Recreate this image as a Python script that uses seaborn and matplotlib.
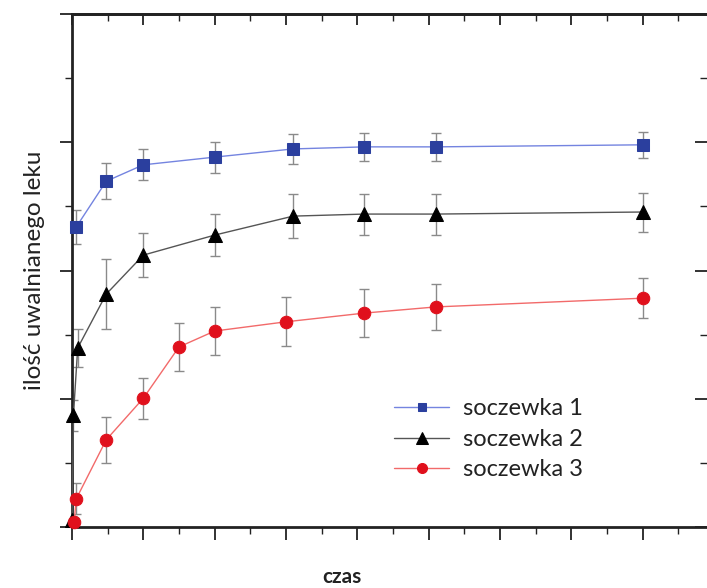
import matplotlib

matplotlib.use("Agg")
import matplotlib.pyplot as plt  # noqa: E402
import pandas as pd  # noqa: E402
import seaborn as sns  # noqa: E402
from matplotlib.ticker import MultipleLocator, NullFormatter  # noqa: E402

# ── data (x = time units, y = % released) ──
t_s1 = [0.06, 0.48, 1.0, 2.0, 3.1, 4.1, 5.1, 8.0]
y_s1 = [58.5, 67.4, 70.6, 72.1, 73.7, 74.1, 74.1, 74.5]
e_s1 = [3.3, 3.5, 3.0, 3.0, 3.0, 2.8, 2.8, 2.5]

t_s2 = [0.0, 0.02, 0.08, 0.48, 1.0, 2.0, 3.1, 4.1, 5.1, 8.0]
y_s2 = [1.4, 21.8, 34.9, 45.4, 53.0, 56.9, 60.6, 61.0, 61.0, 61.4]
e_s2 = [0.8, 3.0, 3.7, 6.8, 4.3, 4.1, 4.3, 4.0, 4.0, 3.8]

t_s3 = [0.03, 0.06, 0.48, 1.0, 1.5, 2.0, 3.0, 4.1, 5.1, 8.0]
y_s3 = [1.0, 5.5, 17.0, 25.1, 35.1, 38.2, 40.0, 41.7, 42.9, 44.6]
e_s3 = [0.8, 3.0, 4.5, 4.0, 4.7, 4.7, 4.8, 4.7, 4.5, 3.9]

labels = ["soczewka 1", "soczewka 2", "soczewka 3"]
marker_colors = ["#2b3f9e", "#000000", "#e0101c"]
line_colors = ["#7484e0", "#555555", "#f26a6a"]
markers = ["s", "^", "o"]
msizes = [8, 10, 9]

sns.set_theme(style="ticks")
plt.rcParams["font.family"] = ["Lato", "DejaVu Sans"]

fig = plt.figure(figsize=(7.07, 5.88), dpi=100)
# axes run slightly past the right edge, as in the (cropped) reference
ax = fig.add_axes([72 / 707, 1 - 527 / 588, (714 - 72) / 707, (527 - 14) / 588])

series = [(t_s1, y_s1, e_s1), (t_s2, y_s2, e_s2), (t_s3, y_s3, e_s3)]
for (t, y, e), lab, mc, lc, mk, ms in zip(series, labels, marker_colors,
                                          line_colors, markers, msizes):
    df = pd.DataFrame({"czas": t, "lek": y})
    ax.errorbar(t, y, yerr=e, fmt="none", ecolor="#8a8a8a", elinewidth=1.0,
                capsize=3.5, capthick=1.0, zorder=2)
    sns.lineplot(data=df, x="czas", y="lek", ax=ax, color=lc, lw=1.0,
                 marker=mk, markersize=ms, markerfacecolor=mc,
                 markeredgecolor=mc, label=lab, zorder=3, clip_on=False)

ax.set_xlim(0, 9)
ax.set_ylim(0, 100)
ax.xaxis.set_major_locator(MultipleLocator(1))
ax.xaxis.set_minor_locator(MultipleLocator(0.5))
ax.yaxis.set_major_locator(MultipleLocator(25))
ax.yaxis.set_minor_locator(MultipleLocator(12.5))
ax.xaxis.set_major_formatter(NullFormatter())
ax.yaxis.set_major_formatter(NullFormatter())
ax.tick_params(which="major", direction="out", length=9, width=1.3, color="#222")
ax.tick_params(which="minor", direction="out", length=5, width=1.0, color="#222")

# mirrored axes on top / right with inward ticks
top = ax.secondary_xaxis("top")
right = ax.secondary_yaxis("right")
top.xaxis.set_major_locator(MultipleLocator(1))
top.xaxis.set_minor_locator(MultipleLocator(0.5))
top.xaxis.set_major_formatter(NullFormatter())
right.yaxis.set_major_locator(MultipleLocator(25))
right.yaxis.set_minor_locator(MultipleLocator(12.5))
right.yaxis.set_major_formatter(NullFormatter())
top.tick_params(which="major", direction="in", length=8, width=1.3, color="#222")
top.tick_params(which="minor", direction="in", length=5, width=1.0, color="#222")
right.tick_params(which="major", direction="in", length=14, width=1.3, color="#222")
right.tick_params(which="minor", direction="in", length=10, width=1.0, color="#222")

for s in ax.spines.values():
    s.set_linewidth(2.0)
    s.set_color("#222")
for sec in (top, right):
    for s in sec.spines.values():
        s.set_linewidth(2.0)
        s.set_color("#222")

ax.set_xlabel("czas", fontsize=15, fontweight="bold", color="#222")
ax.xaxis.set_label_coords((342 - 72) / (714 - 72), -0.078)
ax.set_ylabel("ilość uwalnianego leku", fontsize=17.5, color="#222")
ax.yaxis.set_label_coords(-0.042, 0.5)

leg = ax.legend(loc="upper left", bbox_to_anchor=((385 - 72) / 642, (527 - 389) / 513),
                frameon=False, fontsize=17, handlelength=2.3, handletextpad=0.6,
                labelspacing=0.4, borderaxespad=0, markerscale=0.8)
for txt in leg.get_texts():
    txt.set_color("#222")

fig.savefig("out.png", dpi=100)
